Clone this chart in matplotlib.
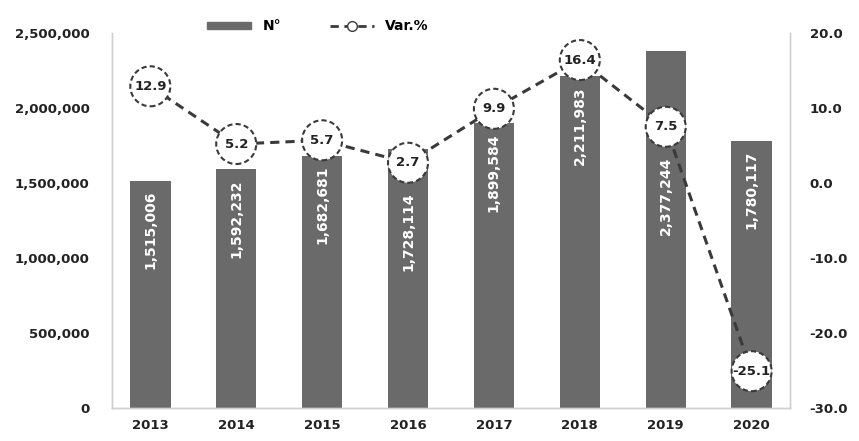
"""Barras N° por año + variación % (eje derecho)."""
import numpy as np
import matplotlib
matplotlib.use("Agg")
import matplotlib.pyplot as plt
from matplotlib.lines import Line2D
from matplotlib.patches import Patch
from matplotlib.ticker import FuncFormatter

plt.rcParams["font.family"] = ["DejaVu Sans"]
plt.rcParams["font.weight"] = "bold"

years = ["2013", "2014", "2015", "2016", "2017", "2018", "2019", "2020"]
n_total = [1515006, 1592232, 1682681, 1728114, 1899584, 2211983, 2377244, 1780117]
var_pct = [12.9, 5.2, 5.7, 2.7, 9.9, 16.4, 7.5, -25.1]
left_ticks = [0, 500000, 1000000, 1500000, 2000000, 2500000]
right_ticks = [-30, -20, -10, 0, 10, 20]

BAR = "#6a6a6a"
LINE = "#3a3a3a"
FRAME = "#d0d0d0"

fig = plt.figure(figsize=(8.59, 4.41), dpi=100)
ax = fig.add_axes([0.130, 0.075, 0.790, 0.850])
ax2 = ax.twinx()

x = np.arange(len(years))
ax.bar(x, n_total, width=0.47, color=BAR, zorder=2)
ax.set_xlim(-0.45, 7.45)
ax.set_ylim(0, 2500000)
ax.set_yticks(left_ticks)
ax.yaxis.set_major_formatter(FuncFormatter(lambda v, p: f"{int(v):,}"))
ax.set_xticks(x)
ax.set_xticklabels(years)
ax.tick_params(length=0, labelsize=9.5, colors="#222222")
ax.tick_params(axis="y", pad=16)
ax.tick_params(axis="x", pad=8)

ax2.set_ylim(-30, 20)
ax2.set_yticks(right_ticks)
ax2.yaxis.set_major_formatter(FuncFormatter(lambda v, p: f"{v:.1f}"))
ax2.tick_params(length=0, labelsize=9.5, colors="#222222", pad=14)

for a in (ax, ax2):
    for s in a.spines.values():
        s.set_color(FRAME)
        s.set_linewidth(1.0)
    a.spines["top"].set_visible(False)

# linea de variación con círculos punteados
ax2.plot(x, var_pct, ls=(0, (3, 2)), color=LINE, lw=2.2, zorder=3)
ax2.scatter(x, var_pct, s=830, facecolor="white", edgecolor=LINE,
            linewidths=1.5, linestyles=(0, (2.5, 1.5)), zorder=4)
for xi, v in zip(x, var_pct):
    ax2.text(xi, v, f"{v:.1f}", ha="center", va="center", fontsize=9.5,
             fontweight="bold", color="#222222", zorder=5)

# etiquetas dentro de las barras; si el círculo tapa la etiqueta, va debajo
fig.canvas.draw()
radius_px = 20
label_len_px = 90
pad_px = 10
for xi, n, v in zip(x, n_total, var_pct):
    top_px = ax.transData.transform((xi, n))[1] - pad_px
    cy = ax2.transData.transform((xi, v))[1]
    c_lo, c_hi = cy - radius_px, cy + radius_px
    if c_lo < top_px and c_hi > top_px - label_len_px:
        top_px = min(top_px, c_lo - pad_px)
    y_data = ax.transData.inverted().transform((0, top_px))[1]
    ax.text(xi, y_data, f"{n:,}", rotation=90, ha="center", va="top",
            color="white", fontsize=10, fontweight="bold", zorder=3)

handles = [Patch(facecolor=BAR, edgecolor=BAR),
           Line2D([0], [0], color=LINE, ls=(0, (3, 2)), lw=2, marker="o",
                  markersize=7, markerfacecolor="white", markeredgecolor=LINE)]
fig.legend(handles, ["N°", "Var.%"], loc="center", bbox_to_anchor=(0.37, 0.94),
           ncol=2, frameon=False, fontsize=10, handlelength=3.2,
           handleheight=0.35, columnspacing=3.5)

fig.savefig("out.png", dpi=100)
